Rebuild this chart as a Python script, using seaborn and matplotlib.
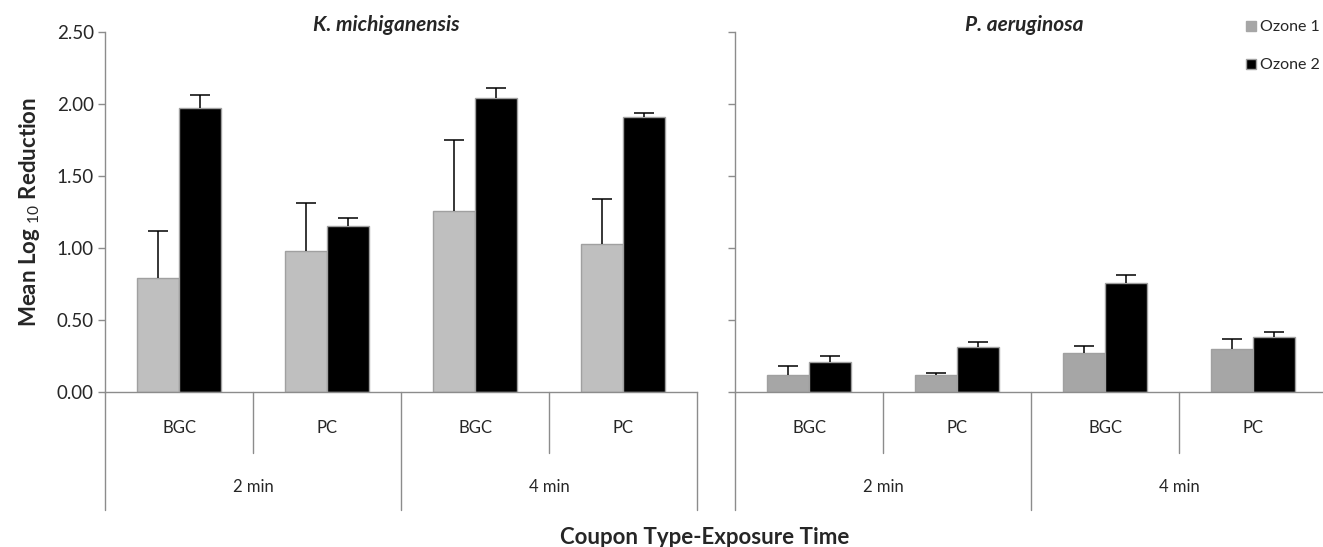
import pandas as pd
import numpy as np
import matplotlib
matplotlib.use("Agg")
import matplotlib.pyplot as plt
import seaborn as sns
from matplotlib.patches import Patch

sns.set_style("white")
plt.rcParams['font.family'] = ['Lato', 'DejaVu Sans']
plt.rcParams['mathtext.fontset'] = 'custom'
plt.rcParams['mathtext.rm'] = 'Lato'
plt.rcParams['mathtext.bf'] = 'Lato:bold'

# data (mean and upper error bar)
coupons = ["BGC", "PC", "BGC", "PC"]
times = ["2 min", "4 min"]
keys = ["BGC 2", "PC 2", "BGC 4", "PC 4"]

km_ozone1 = [0.79, 0.98, 1.26, 1.03]
km_ozone1_err = [0.33, 0.33, 0.49, 0.31]
km_ozone2 = [1.97, 1.15, 2.04, 1.91]
km_ozone2_err = [0.09, 0.06, 0.07, 0.03]

pa_ozone1 = [0.115, 0.115, 0.27, 0.30]
pa_ozone1_err = [0.065, 0.02, 0.05, 0.07]
pa_ozone2 = [0.21, 0.31, 0.76, 0.38]
pa_ozone2_err = [0.04, 0.04, 0.05, 0.04]

yticks = [0.0, 0.5, 1.0, 1.5, 2.0, 2.5]

line_grey = '#8c8c8c'


def draw_panel(ax, o1, o1_err, o2, o2_err, o1_color, title, title_x, labels):
    df = pd.DataFrame({
        'key': keys * 2,
        'value': o1 + o2,
        'ozone': ['Ozone 1'] * 4 + ['Ozone 2'] * 4,
    })
    sns.barplot(data=df, x='key', y='value', hue='ozone', order=keys,
                hue_order=['Ozone 1', 'Ozone 2'],
                palette={'Ozone 1': o1_color, 'Ozone 2': 'black'},
                width=0.57, edgecolor='#a0a0a0', linewidth=1.0,
                errorbar=None, legend=False, ax=ax, zorder=2)

    # upward-only error bars (no cap at the bar top)
    for cont, errs in zip(ax.containers, [o1_err, o2_err]):
        for bar, e in zip(cont, errs):
            xc = bar.get_x() + bar.get_width() / 2
            h = bar.get_height()
            eb = ax.errorbar(xc, h, yerr=[[0], [e]], fmt='none', ecolor='black',
                             elinewidth=1.1, capsize=7, capthick=1.1, zorder=3)
            eb[1][0].set_visible(False)

    ax.set_xlim(-0.5, 3.5)
    ax.set_ylim(0, 2.5)
    ax.set_yticks(yticks)
    ax.set_xticks([])
    ax.set_xlabel('')
    ax.set_ylabel('')
    sns.despine(ax=ax, top=True, right=True)
    for s in ['left', 'bottom']:
        ax.spines[s].set_color(line_grey)
        ax.spines[s].set_linewidth(1.0)
    ax.tick_params(axis='y', direction='out', length=5, color=line_grey,
                   width=1.0, left=True, labelsize=13.5, pad=3)
    if labels:
        ax.set_yticklabels([f"{t:.2f}" for t in yticks])
    else:
        ax.set_yticklabels([])

    ax.text(title_x, 1.02, title, transform=ax.transAxes, ha='center',
            va='center', fontsize=15, fontweight='bold', style='italic')

    # hierarchical category axis below zero line
    tr = ax.get_xaxis_transform()
    for xs in [0.5, 2.5]:
        ax.plot([xs, xs], [0, -0.169], color=line_grey, lw=1.0,
                transform=tr, clip_on=False)
    for xs in [-0.5, 1.5, 3.5]:
        ax.plot([xs, xs], [0, -0.328], color=line_grey, lw=1.0,
                transform=tr, clip_on=False)
    for i, c in enumerate(coupons):
        ax.text(i, -0.1, c, transform=tr, ha='center', va='center', fontsize=12)
    for j, t in enumerate(times):
        ax.text(0.5 + 2 * j, -0.264, t, transform=tr, ha='center', va='center',
                fontsize=12)


fig = plt.figure(figsize=(13.23, 5.47), dpi=100)
ax1 = fig.add_axes([105 / 1323, 155 / 547, 592 / 1323, 360 / 547])
ax2 = fig.add_axes([735 / 1323, 155 / 547, 592 / 1323, 360 / 547])

draw_panel(ax1, km_ozone1, km_ozone1_err, km_ozone2, km_ozone2_err,
           '#bfbfbf', 'K. michiganensis', 0.476, True)
draw_panel(ax2, pa_ozone1, pa_ozone1_err, pa_ozone2, pa_ozone2_err,
           '#a6a6a6', 'P. aeruginosa', 0.488, False)

fig.text(30 / 1323, (547 - 212) / 547, r"Mean Log $_{10}$ Reduction",
         rotation=90, ha='center', va='center', fontsize=16, fontweight='bold')
fig.text(705 / 1323, (547 - 537) / 547, "Coupon Type-Exposure Time",
         ha='center', va='center', fontsize=16, fontweight='bold')

handles = [Patch(facecolor='#a6a6a6', edgecolor='#a6a6a6', label='Ozone 1'),
           Patch(facecolor='black', edgecolor='#a0a0a0', label='Ozone 2')]
fig.legend(handles=handles, loc='upper left', bbox_to_anchor=(1240 / 1323, 1 - 14 / 547),
           frameon=False, fontsize=11.5, handlelength=0.6, handleheight=0.6,
           handletextpad=0.25, labelspacing=1.5, borderaxespad=0)

fig.savefig('out.png', dpi=100)
